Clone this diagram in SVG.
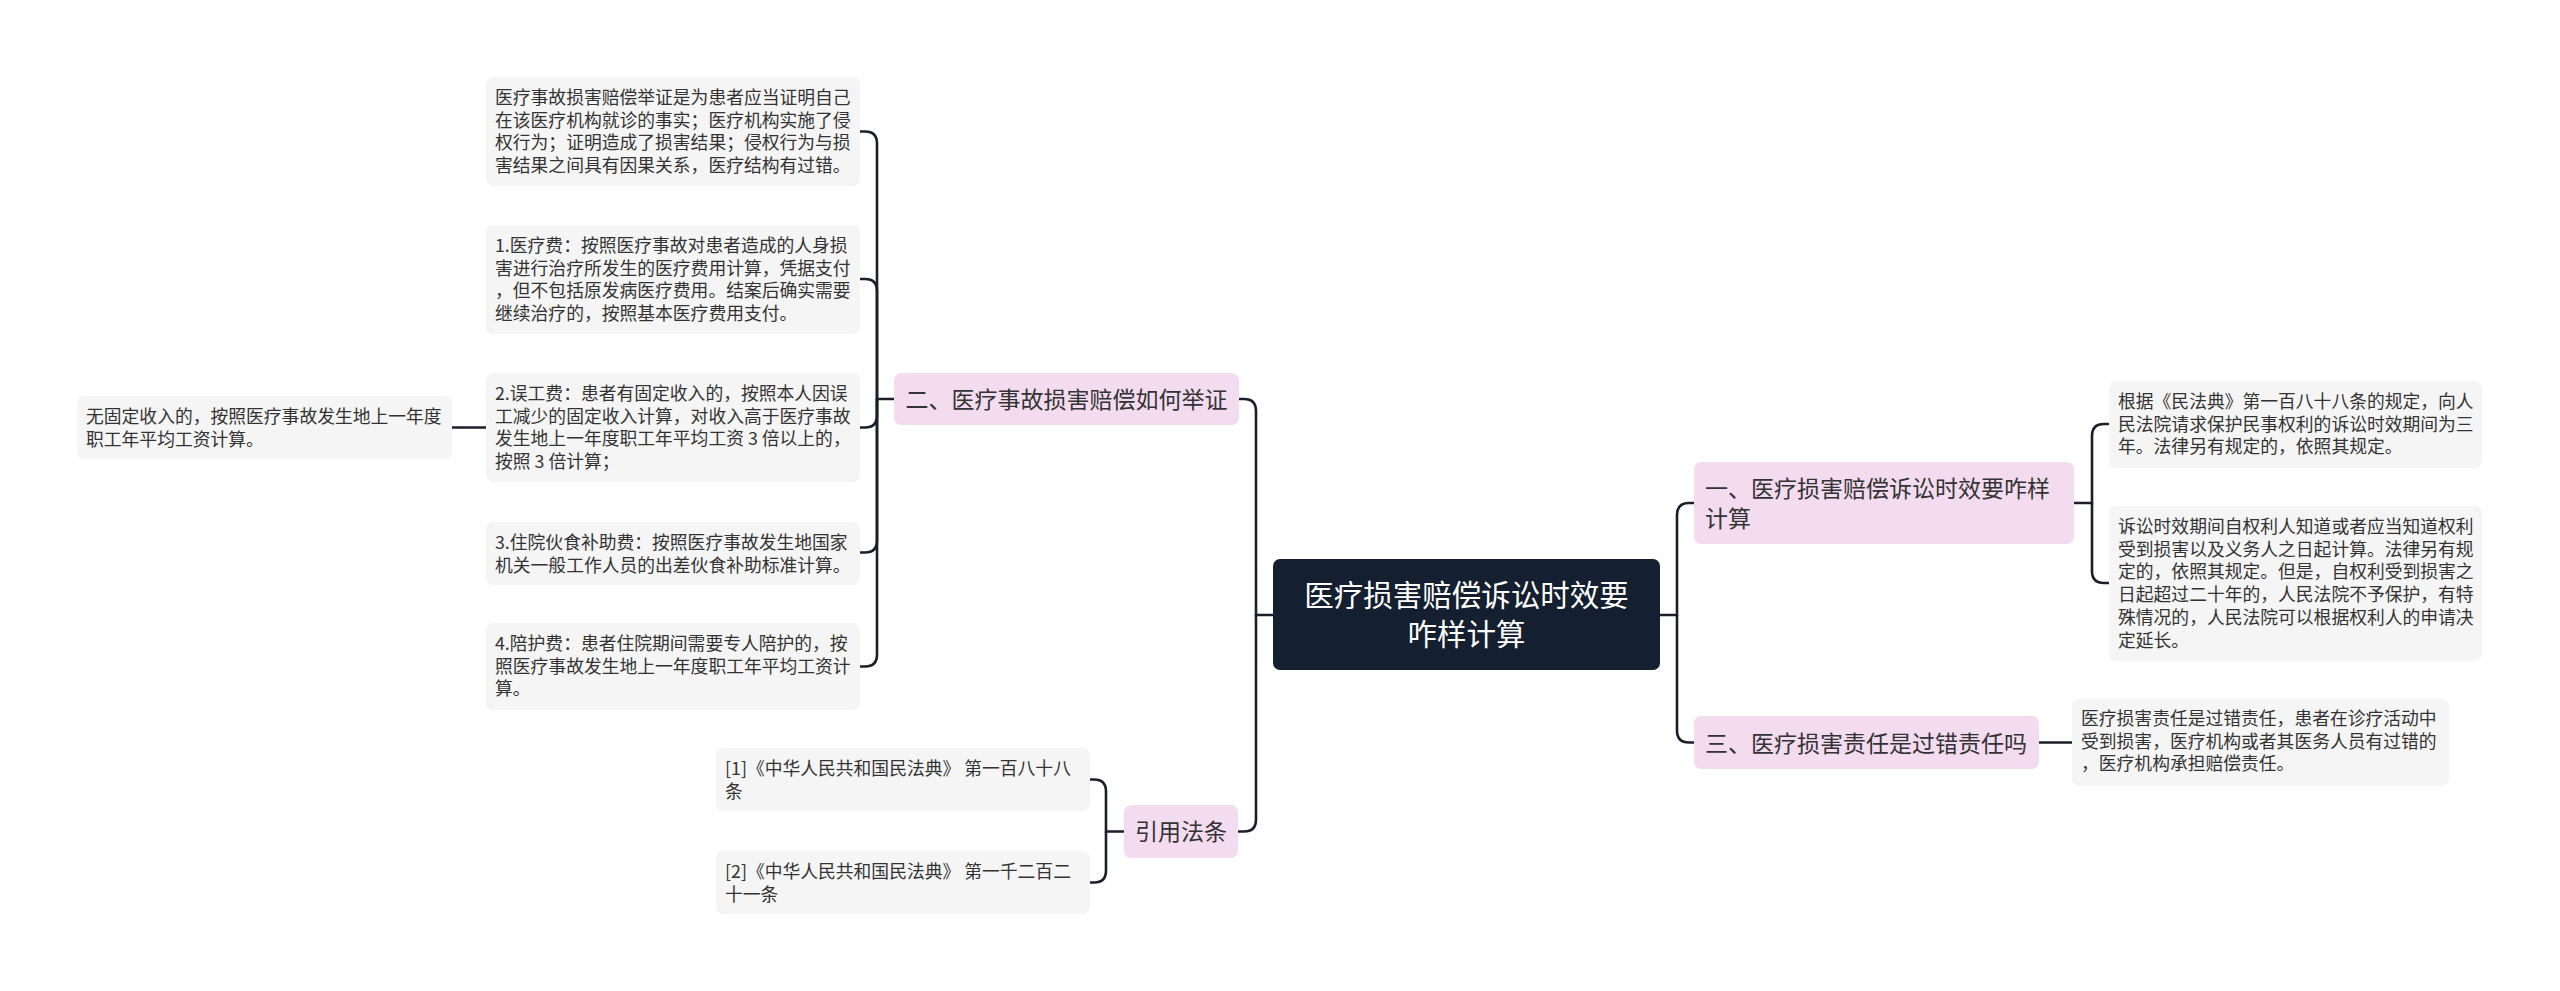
<svg xmlns="http://www.w3.org/2000/svg" width="2560" height="991" viewBox="0 0 2560 991">
<style>
.leaf{fill:#F5F5F5}
.br{fill:#F4DCF0}
.lt{font-family:"Noto Sans CJK SC","Noto Sans",sans-serif;font-size:17.8px;fill:#333333}
.bt{font-family:"Noto Sans CJK SC","Noto Sans",sans-serif;font-size:23px;fill:#333333}
.rt{font-family:"Noto Sans CJK SC","Noto Sans",sans-serif;font-size:29.5px;fill:#FFFFFF}
.con path{fill:none;stroke:#1B1F2A;stroke-width:2.6}
</style>
<rect width="2560" height="991" fill="#FFFFFF"/>
<g class="con">
<path d="M1273,615 H1256 V411 Q1256,399 1244,399 H1239"/>
<path d="M1256,615 V819.5 Q1256,831.5 1244,831.5 H1238"/>
<path d="M1660,615 H1677 V515 Q1677,503 1689,503 H1694"/>
<path d="M1677,615 V730.5 Q1677,742.5 1689,742.5 H1694"/>
<path d="M894,399 H877 V143.5 Q877,131.5 865,131.5 H860"/>
<path d="M877,399 V291 Q877,279 865,279 H860"/>
<path d="M877,399 V415.5 Q877,427.5 865,427.5 H860"/>
<path d="M877,399 V540.5 Q877,552.5 865,552.5 H860"/>
<path d="M877,399 V654.5 Q877,666.5 865,666.5 H860"/>
<path d="M486,427.5 H452"/>
<path d="M1124,831.5 H1106 V791.5 Q1106,779.5 1094,779.5 H1090"/>
<path d="M1106,831.5 V870.5 Q1106,882.5 1094,882.5 H1090"/>
<path d="M2074,503 H2092 V436 Q2092,424 2104,424 H2109"/>
<path d="M2092,503 V571 Q2092,583 2104,583 H2109"/>
<path d="M2039,742.5 H2072"/>
</g>
<g id="root">
<rect x="1273" y="559" width="387" height="111" rx="7" fill="#14202F"/>
<text class="rt" x="1466.5" y="606" text-anchor="middle">医疗损害赔偿诉讼时效要</text>
<text class="rt" x="1466.5" y="645" text-anchor="middle">咋样计算</text>
</g>
<g id="b2">
<rect class="br" x="894" y="373" width="345" height="52" rx="7"/>
<text class="bt" x="1066.5" y="408" text-anchor="middle">二、医疗事故损害赔偿如何举证</text>
</g>
<g id="b4">
<rect class="br" x="1124" y="805" width="114" height="53" rx="7"/>
<text class="bt" x="1181" y="840" text-anchor="middle">引用法条</text>
</g>
<g id="b1">
<rect class="br" x="1694" y="462" width="380" height="82" rx="7"/>
<text class="bt" x="1705" y="497">一、医疗损害赔偿诉讼时效要咋样</text>
<text class="bt" x="1705" y="527">计算</text>
</g>
<g id="b3">
<rect class="br" x="1694" y="716" width="345" height="53" rx="7"/>
<text class="bt" x="1705" y="752">三、医疗损害责任是过错责任吗</text>
</g>
<g id="l1">
<rect class="leaf" x="486" y="77" width="374" height="109" rx="7"/>
<text class="lt" x="495" y="104"><tspan x="495">医疗事故损害赔偿举证是为患者应当证明自己</tspan><tspan x="495" dy="22.7">在该医疗机构就诊的事实；医疗机构实施了侵</tspan><tspan x="495" dy="22.7">权行为；证明造成了损害结果；侵权行为与损</tspan><tspan x="495" dy="22.7">害结果之间具有因果关系，医疗结构有过错。</tspan></text>
</g>
<g id="l2">
<rect class="leaf" x="486" y="225" width="374" height="109" rx="7"/>
<text class="lt" x="495" y="252"><tspan x="495">1.医疗费：按照医疗事故对患者造成的人身损</tspan><tspan x="495" dy="22.7">害进行治疗所发生的医疗费用计算，凭据支付</tspan><tspan x="495" dy="22.7">，但不包括原发病医疗费用。结案后确实需要</tspan><tspan x="495" dy="22.7">继续治疗的，按照基本医疗费用支付。</tspan></text>
</g>
<g id="l3">
<rect class="leaf" x="486" y="373" width="374" height="109" rx="7"/>
<text class="lt" x="495" y="400"><tspan x="495">2.误工费：患者有固定收入的，按照本人因误</tspan><tspan x="495" dy="22.7">工减少的固定收入计算，对收入高于医疗事故</tspan><tspan x="495" dy="22.7">发生地上一年度职工年平均工资 3 倍以上的，</tspan><tspan x="495" dy="22.7">按照 3 倍计算；</tspan></text>
</g>
<g id="l3a">
<rect class="leaf" x="77" y="396" width="375" height="63" rx="7"/>
<text class="lt" x="86" y="423"><tspan x="86">无固定收入的，按照医疗事故发生地上一年度</tspan><tspan x="86" dy="22.7">职工年平均工资计算。</tspan></text>
</g>
<g id="l4">
<rect class="leaf" x="486" y="522" width="374" height="63" rx="7"/>
<text class="lt" x="495" y="549"><tspan x="495">3.住院伙食补助费：按照医疗事故发生地国家</tspan><tspan x="495" dy="22.7">机关一般工作人员的出差伙食补助标准计算。</tspan></text>
</g>
<g id="l5">
<rect class="leaf" x="486" y="623" width="374" height="87" rx="7"/>
<text class="lt" x="495" y="650"><tspan x="495">4.陪护费：患者住院期间需要专人陪护的，按</tspan><tspan x="495" dy="22.7">照医疗事故发生地上一年度职工年平均工资计</tspan><tspan x="495" dy="22.7">算。</tspan></text>
</g>
<g id="l6">
<rect class="leaf" x="716" y="748" width="374" height="63" rx="7"/>
<text class="lt" x="725" y="775"><tspan x="725">[1]《中华人民共和国民法典》 第一百八十八</tspan><tspan x="725" dy="22.7">条</tspan></text>
</g>
<g id="l7">
<rect class="leaf" x="716" y="851" width="374" height="63" rx="7"/>
<text class="lt" x="725" y="878"><tspan x="725">[2]《中华人民共和国民法典》 第一千二百二</tspan><tspan x="725" dy="22.7">十一条</tspan></text>
</g>
<g id="r1">
<rect class="leaf" x="2109" y="381" width="373" height="87" rx="7"/>
<text class="lt" x="2118" y="408"><tspan x="2118">根据《民法典》第一百八十八条的规定，向人</tspan><tspan x="2118" dy="22.7">民法院请求保护民事权利的诉讼时效期间为三</tspan><tspan x="2118" dy="22.7">年。法律另有规定的，依照其规定。</tspan></text>
</g>
<g id="r2">
<rect class="leaf" x="2109" y="506" width="373" height="155" rx="7"/>
<text class="lt" x="2118" y="533"><tspan x="2118">诉讼时效期间自权利人知道或者应当知道权利</tspan><tspan x="2118" dy="22.7">受到损害以及义务人之日起计算。法律另有规</tspan><tspan x="2118" dy="22.7">定的，依照其规定。但是，自权利受到损害之</tspan><tspan x="2118" dy="22.7">日起超过二十年的，人民法院不予保护，有特</tspan><tspan x="2118" dy="22.7">殊情况的，人民法院可以根据权利人的申请决</tspan><tspan x="2118" dy="22.7">定延长。</tspan></text>
</g>
<g id="r3">
<rect class="leaf" x="2072" y="699" width="377" height="87" rx="7"/>
<text class="lt" x="2081" y="725"><tspan x="2081">医疗损害责任是过错责任，患者在诊疗活动中</tspan><tspan x="2081" dy="22.7">受到损害，医疗机构或者其医务人员有过错的</tspan><tspan x="2081" dy="22.7">，医疗机构承担赔偿责任。</tspan></text>
</g>
</svg>
